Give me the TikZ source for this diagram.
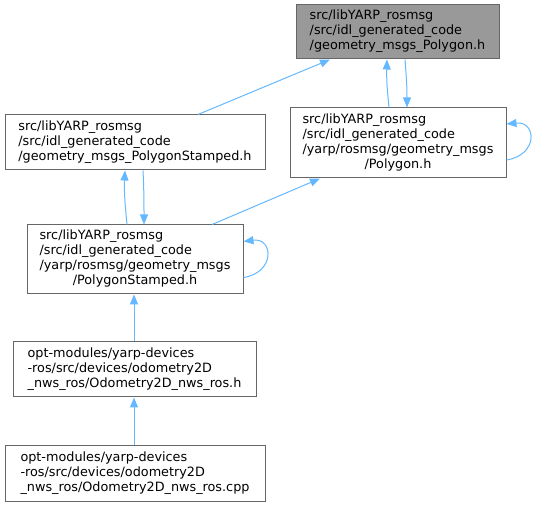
\documentclass[tikz,border=0pt]{standalone}
\usepackage{fontspec}
\setmainfont{DejaVu Sans}
\usetikzlibrary{arrows.meta,calc}
\definecolor{edgeblue}{HTML}{63B8FF}
\definecolor{boxborder}{HTML}{666666}
\definecolor{boxfill}{HTML}{999999}
\begin{document}
\begin{tikzpicture}[x=0.75pt,y=-0.75pt,
  filebox/.style={draw=boxborder,line width=0.75pt,fill=white,inner sep=0pt,
    font=\fontsize{9.6pt}{11.25pt}\selectfont},
  hlbox/.style={filebox,fill=boxfill},
  dep/.style={draw=edgeblue,line width=0.75pt,-{Triangle[length=7.5pt,width=6pt]}}]
\useasboundingbox (0,0) rectangle (535,505);
\node[hlbox,minimum width=152.25pt,minimum height=40.5pt] (A) at (397.5,32)
  {\begin{tabular}{@{}l@{}}src/libYARP\_rosmsg\\/src/idl\_generated\_code\\/geometry\_msgs\_Polygon.h\end{tabular}};
\node[filebox,minimum width=162pt,minimum height=52.5pt] (B) at (398,143)
  {\begin{tabular}{@{}l@{}}src/libYARP\_rosmsg\\/src/idl\_generated\_code\\/yarp/rosmsg/geometry\_msgs\\\multicolumn{1}{@{}c@{}}{/Polygon.h}\end{tabular}};
\node[filebox,minimum width=195pt,minimum height=41.25pt] (C) at (135,142.5)
  {\begin{tabular}{@{}l@{}}src/libYARP\_rosmsg\\/src/idl\_generated\_code\\/geometry\_msgs\_PolygonStamped.h\end{tabular}};
\node[filebox,minimum width=162pt,minimum height=51.75pt] (D) at (135,259.5)
  {\begin{tabular}{@{}l@{}}src/libYARP\_rosmsg\\/src/idl\_generated\_code\\/yarp/rosmsg/geometry\_msgs\\\multicolumn{1}{@{}c@{}}{/PolygonStamped.h}\end{tabular}};
\node[filebox,minimum width=182.25pt,minimum height=41.25pt] (E) at (134.5,369.5)
  {\begin{tabular}{@{}l@{}}opt-modules/yarp-devices\\-ros/src/devices/odometry2D\\\_nws\_ros/Odometry2D\_nws\_ros.h\end{tabular}};
\node[filebox,minimum width=195pt,minimum height=42pt] (F) at (135,473.5)
  {\begin{tabular}{@{}l@{}}opt-modules/yarp-devices\\-ros/src/devices/odometry2D\\\_nws\_ros/Odometry2D\_nws\_ros.cpp\end{tabular}};
% edges
\draw[dep] ($(C.north)+(63,0)$) -- ($(A.south)+(-67.5,0)$);
\draw[dep] ($(B.north)+(-9,0)$) .. controls ($(B.north)+(-11,-20)$) and ($(A.south)+(-11,20)$) .. ($(A.south)+(-10.5,0)$);
\draw[dep] ($(A.south)+(7.5,0)$) .. controls ($(A.south)+(9,20)$) and ($(B.north)+(9,-20)$) .. ($(B.north)+(9,0)$);
\draw[dep] ($(B.east)+(0,17)$) .. controls ($(B.east)+(32,12)$) and ($(B.east)+(30,-22)$) .. ($(B.east)+(0,-19)$);
\draw[dep] ($(D.north)+(77,0)$) -- ($(B.south)+(-78,0)$);
\draw[dep] ($(D.north)+(-8,0)$) .. controls ($(D.north)+(-10,-20)$) and ($(C.south)+(-11,20)$) .. ($(C.south)+(-10,0)$);
\draw[dep] ($(C.south)+(8,0)$) .. controls ($(C.south)+(9,20)$) and ($(D.north)+(9,-20)$) .. ($(D.north)+(9,0)$);
\draw[dep] ($(D.east)+(0,18)$) .. controls ($(D.east)+(32,13)$) and ($(D.east)+(30,-22)$) .. ($(D.east)+(0,-18)$);
\draw[dep] (E.north -| 134,0) -- (D.south -| 134,0);
\draw[dep] (F.north -| 134,0) -- (E.south -| 134,0);
\end{tikzpicture}
\end{document}
